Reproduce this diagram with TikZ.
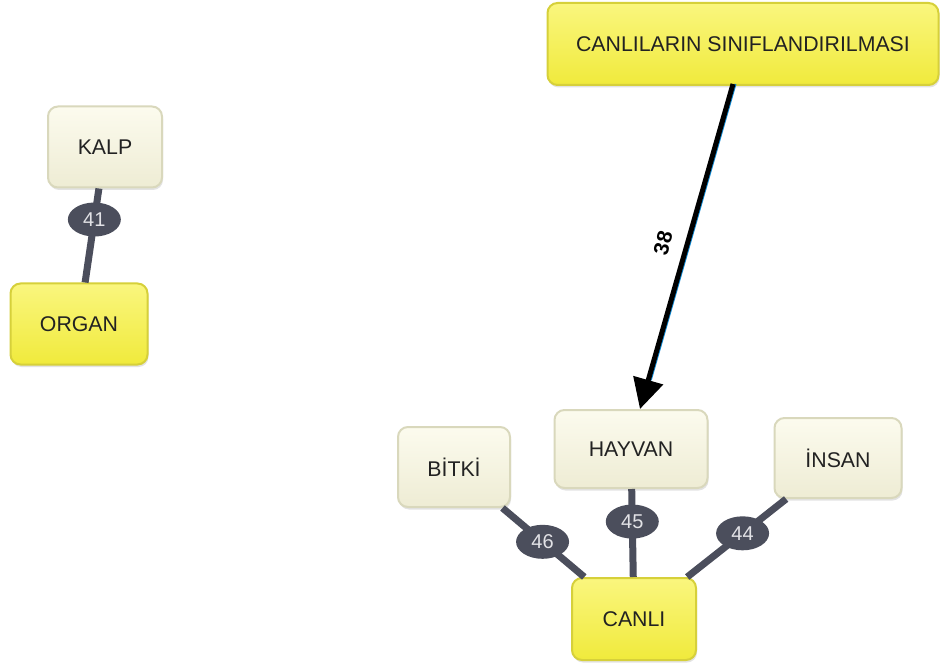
\documentclass[tikz,border=0pt]{standalone}
\usepackage{fontspec}
\setmainfont{Liberation Sans}
\usetikzlibrary{arrows.meta,shadows,shapes.geometric}
\definecolor{creamtop}{HTML}{FCFBEE}
\definecolor{creambot}{HTML}{EEECD4}
\definecolor{creamline}{HTML}{D9D8BC}
\definecolor{yeltop}{HTML}{FAF67E}
\definecolor{yelbot}{HTML}{F0EA3C}
\definecolor{yelline}{HTML}{D6D03A}
\definecolor{edgegray}{HTML}{4B4E5C}
\definecolor{labtext}{HTML}{E2E2E6}
\definecolor{txt}{HTML}{222222}
\tikzset{
  concept/.style={rounded corners=10pt, line width=2pt, inner sep=0pt, align=center,
    text=txt, font=\fontsize{21.3}{24}\selectfont,
    drop shadow={opacity=0.22, shadow xshift=1pt, shadow yshift=-2.5pt}},
  cream/.style={concept, draw=creamline, top color=creamtop, bottom color=creambot},
  yellow/.style={concept, draw=yelline, top color=yeltop, bottom color=yelbot},
  link/.style={line width=7pt, draw=edgegray},
  linklabel/.style={ellipse, fill=edgegray, text=labtext, minimum width=53pt, minimum height=34pt,
    inner sep=0pt, font=\fontsize{20}{22}\selectfont},
  bigarrow/.style={line width=5pt, draw=black, -{Triangle[length=30pt,width=30pt]}},
}
\begin{document}
\begin{tikzpicture}[x=1pt,y=-1pt]
\useasboundingbox (0,0) rectangle (943,663);
\fill[white] (0,0) rectangle (943,663);
% nodes
\node[yellow, minimum width=391pt, minimum height=82pt] (root) at (743,44) {CANLILARIN SINIFLANDIRILMASI};
\node[cream, minimum width=114pt, minimum height=81pt] (kalp) at (105,147) {KALP};
\node[yellow, minimum width=137pt, minimum height=81pt] (organ) at (79,324) {ORGAN};
\node[cream, minimum width=153pt, minimum height=78pt] (hayvan) at (631,449) {HAYVAN};
\node[cream, minimum width=112pt, minimum height=80pt] (bitki) at (454,467) {BİTKİ};
\node[cream, minimum width=127pt, minimum height=80pt] (insan) at (838,458) {İNSAN};
\node[yellow, minimum width=124pt, minimum height=82pt] (canli) at (634,619) {CANLI};
% links
\draw[link] (kalp) -- node[linklabel, pos=0.33] (l41) {41} (organ);
\draw[link] (bitki) -- node[linklabel, pos=0.49] (l46) {46} (canli);
\draw[link] (hayvan) -- node[linklabel, pos=0.37] (l45) {45} (canli);
\draw[link] (insan) -- node[linklabel, pos=0.44] (l44) {44} (canli);
% arrow
\coordinate (as) at ([xshift=-10pt,yshift=2pt]root.south);
\coordinate (ae) at ([xshift=9pt]hayvan.north);
\draw[line width=2pt, draw=cyan!70!blue, shorten >=30pt] ([xshift=2.5pt]as) -- ([xshift=2.5pt]ae);
\draw[bigarrow] (as) -- (ae);
\node[rotate=76, inner sep=0pt, font=\bfseries\fontsize{21}{23}\selectfont] (l38) at (663,243) {38};
\end{tikzpicture}
\end{document}
